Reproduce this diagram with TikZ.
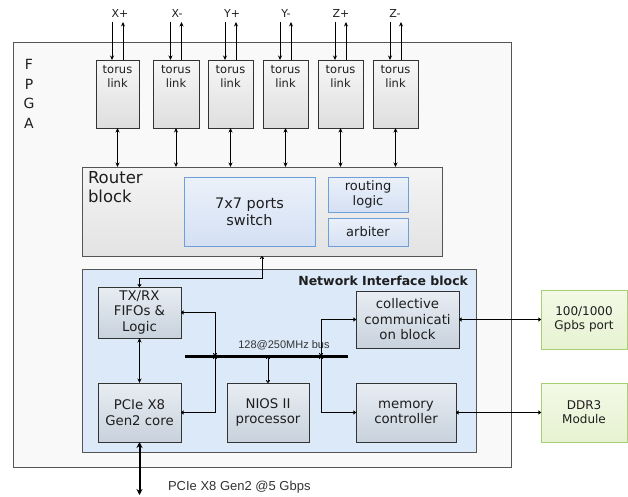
\documentclass[tikz,border=0pt]{standalone}
\usepackage{fontspec}
\setmainfont{DejaVu Sans}
\newfontfamily\arialf{Liberation Sans}
\usetikzlibrary{arrows.meta}
\definecolor{fpgafill}{HTML}{F9F9F9}
\definecolor{edgegray}{HTML}{555555}
\definecolor{darkedge}{HTML}{333333}
\definecolor{txtc}{HTML}{1E1E1E}
\definecolor{torustop}{HTML}{F7F7F7}
\definecolor{torusbot}{HTML}{DEDEDE}
\definecolor{routtop}{HTML}{F4F4F4}
\definecolor{routbot}{HTML}{E3E3E3}
\definecolor{swtop}{HTML}{EBF1FA}
\definecolor{swbot}{HTML}{D4E0F3}
\definecolor{swedge}{HTML}{6F9FD8}
\definecolor{nifill}{HTML}{DCE9F8}
\definecolor{intop}{HTML}{E8EDF3}
\definecolor{inbot}{HTML}{C8D2DD}
\definecolor{grtop}{HTML}{F3F9E6}
\definecolor{grbot}{HTML}{E7F2D2}
\definecolor{gredge}{HTML}{A9CF73}
\begin{document}
\begin{tikzpicture}[x=1pt,y=-1pt,
  every node/.style={inner sep=0pt, outer sep=0pt, text=txtc},
  fpgabox/.style={draw=edgegray, line width=0.8pt, fill=fpgafill},
  torusbox/.style={draw=darkedge, line width=0.8pt, top color=torustop, bottom color=torusbot, minimum height=68pt},
  routbox/.style={draw=edgegray, line width=0.8pt, top color=routtop, bottom color=routbot},
  swbox/.style={draw=swedge, line width=0.8pt, top color=swtop, bottom color=swbot, align=center},
  nibox/.style={draw=edgegray, line width=0.8pt, fill=nifill},
  inbox/.style={draw=darkedge, line width=0.8pt, top color=intop, bottom color=inbot, align=center,
     font=\fontsize{13.3pt}{15.5pt}\selectfont},
  grbox/.style={draw=gredge, line width=0.8pt, top color=grtop, bottom color=grbot, align=center,
     font=\fontsize{12pt}{14pt}\selectfont},
  toruslbl/.style={align=center, font=\fontsize{11.5pt}{13.5pt}\selectfont},
  dirlbl/.style={font=\fontsize{11pt}{13pt}\selectfont},
  conn/.style={line width=1pt, black},
  arr/.style={conn, -{Stealth[length=4.5pt,width=4pt]}},
  darr/.style={conn, {Stealth[length=4.5pt,width=4pt]}-{Stealth[length=4.5pt,width=4pt]}},
  sarr/.style={line width=0.9pt, black, {To[length=3pt,width=4pt]}-{To[length=3pt,width=4pt]}}
]
\useasboundingbox (0,0) rectangle (628,497);

% FPGA outer box
\node[fpgabox, minimum width=498pt, minimum height=425pt] (fpga) at (262,254.5) {};
\node[align=center, font=\fontsize{14pt}{19.5pt}\selectfont] (fpgalbl) at (29,94) {F\\P\\G\\A};

% torus links
\node[torusbox, minimum width=43pt] (t1) at (117.5,94) {};
\node[torusbox, minimum width=46pt] (t2) at (176,94) {};
\node[torusbox, minimum width=45pt] (t3) at (230.5,94) {};
\node[torusbox, minimum width=45pt] (t4) at (285.5,94) {};
\node[torusbox, minimum width=45pt] (t5) at (340.5,94) {};
\node[torusbox, minimum width=45pt] (t6) at (395.5,94) {};
\foreach \i in {1,...,6}{
  \node[toruslbl] (tl\i) at ([yshift=-16.5pt]t\i.north) {torus\\link};
  \draw[arr] ([xshift=-5.5pt,yshift=38pt]t\i.north) -- ([xshift=-5.5pt]t\i.north);
  \draw[arr] ([xshift=5.5pt]t\i.north) -- ([xshift=5.5pt,yshift=38pt]t\i.north);
}
\node[dirlbl] (d1) at (120,13) {X+};
\node[dirlbl] (d2) at (177,13) {X-};
\node[dirlbl] (d3) at (232,13) {Y+};
\node[dirlbl] (d4) at (286,13) {Y-};
\node[dirlbl] (d5) at (341,13) {Z+};
\node[dirlbl] (d6) at (395,13) {Z-};

% router block
\node[routbox, minimum width=360pt, minimum height=89pt] (router) at (262,211.5) {};
\node[anchor=north west, align=left, font=\fontsize{16.5pt}{19pt}\selectfont] (routlbl) at (88,171) {Router\\block};
\node[swbox, minimum width=131pt, minimum height=69pt, font=\fontsize{14.5pt}{17pt}\selectfont] (switch) at (249.5,211.5) {7x7 ports\\switch};
\node[swbox, minimum width=80pt, minimum height=35pt, font=\fontsize{13pt}{15.5pt}\selectfont] (routing) at (368,194.5) {routing\\logic};
\node[swbox, minimum width=80pt, minimum height=28pt, font=\fontsize{13pt}{15.5pt}\selectfont] (arbiter) at (368,232) {arbiter};

\foreach \i in {1,...,6}{
  \draw[darr] (t\i.south) -- (t\i.south |- router.north);
}

% network interface block
\node[nibox, minimum width=394pt, minimum height=183pt] (ni) at (279,360.5) {};
\node[anchor=east, font=\bfseries\fontsize{12.5pt}{15pt}\selectfont] (nilbl) at (468,281) {Network Interface block};

\node[inbox, minimum width=83pt, minimum height=51pt] (txrx) at (139.5,312.5) {TX/RX\\FIFOs \&\\Logic};
\node[inbox, minimum width=83pt, minimum height=59pt] (pcie) at (139.5,412.5) {PCIe X8\\Gen2 core};
\node[inbox, minimum width=82pt, minimum height=59pt] (nios) at (268,412.5) {NIOS II\\processor};
\node[inbox, minimum width=103pt, minimum height=57pt] (coll) at (407.5,319.5) {collective\\communicati\\on block};
\node[inbox, minimum width=100pt, minimum height=59pt] (mem) at (406,412.5) {memory\\controller};

% external boxes
\node[grbox, minimum width=86pt, minimum height=59pt] (port) at (584,319.5) {100/1000\\Gpbs port};
\node[grbox, minimum width=86pt, minimum height=59pt] (ddr) at (584,412.5) {DDR3\\Module};

% router to TX/RX
\coordinate (rt) at (262,278);
\draw[sarr] (router.south) -- (rt) -| (txrx.north);
% TX/RX to PCIe
\draw[darr] (txrx.south) -- (pcie.north);

% bus
\coordinate (busL) at (185,356);
\coordinate (busR) at (348,356);
\coordinate (bA) at (215,356);
\coordinate (bN) at (268,356);
\coordinate (bB) at (321,356);
\draw[line width=3pt, black] (busL) -- (busR);
\node[font=\arialf\fontsize{11pt}{13pt}\selectfont, text=darkedge] (buslbl) at (284,345) {128@250MHz bus};

\draw[sarr] (bA) |- (txrx.east);
\draw[sarr] (bA) |- (pcie.east);
\draw[sarr] (bN) -- (nios.north);
\draw[sarr] (bB) |- (coll.west);
\draw[sarr] (bB) |- (mem.west);

\draw[sarr] (coll.east) -- (port.west);
\draw[sarr] (mem.east) -- (ddr.west);

% PCIe external link
\coordinate (pcieext) at (139.5,495);
\draw[line width=2pt, black, {Stealth[length=6pt,width=6pt]}-{Stealth[length=6pt,width=6pt]}] (pcie.south) -- (pcieext);
\node[anchor=west, font=\arialf\fontsize{13pt}{15pt}\selectfont, text=darkedge] (pcielbl) at (168,487) {PCIe X8 Gen2 @5 Gbps};
\end{tikzpicture}
\end{document}
